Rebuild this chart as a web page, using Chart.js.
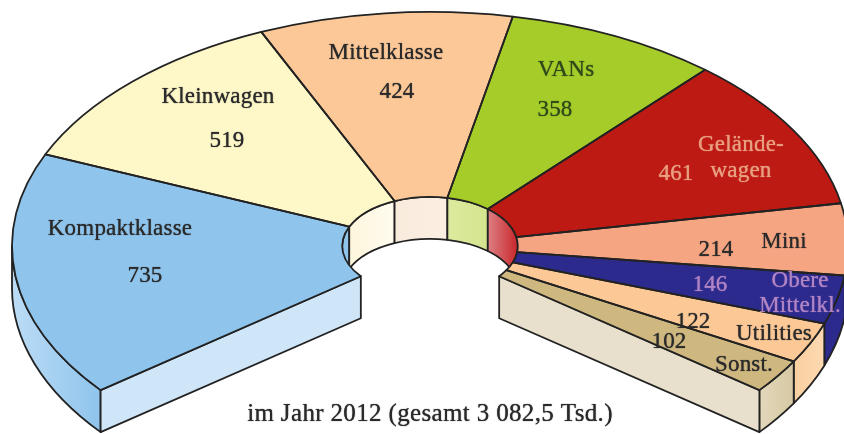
<!DOCTYPE html>
<html>
<head>
<meta charset="utf-8">
<script src="https://cdn.jsdelivr.net/npm/chart.js@4"></script>
<style>html,body{margin:0;padding:0;background:#fff}canvas{display:block}</style>
</head>
<body>
<canvas id="c" width="844" height="434"></canvas>
<script>
const categories = ['Kompaktklasse','Kleinwagen','Mittelklasse','VANs','Geländewagen','Mini','Obere Mittelklasse','Utilities','Sonstige'];
const values = [735,519,424,358,461,214,146,122,102];
const caption = 'im Jahr 2012 (gesamt 3 082,5 Tsd.)';
const topColors = ['#8fc4ec','#fef7c8','#fcc898','#a6cc2a','#be1a14','#f5a582','#2d2a8e','#fcc896','#cfb880'];
const innerWallColors = [['#8fc4ec','#8fc4ec'],['#fdf6dc','#fffbef'],['#f9ebdc','#fbefe2'],['#dcea9e','#d4e48e'],['#dd8084','#c8282c'],null,null,null,null];
const outerWallColors = [['#8fc4ec','#bcdcf5'],null,null,null,null,['#f5a582','#f5a582'],['#2d2a8e','#2d2a8e'],['#fdd9b2','#f9cf9f'],['#d6c8a2','#e3d8bb']];
const faceStart = '#cfe5f8';
const faceEnd = '#e8e0cc';
const DARK = '#2a2a2a', SOFT = '#e8a080', LILAC = '#b184c4', OLIVE = '#2f4a1a';
const labels = [
  ['Kompaktklasse',120,229,DARK],['735',145,276,DARK],
  ['Kleinwagen',218,97,DARK],['519',227,141,DARK],
  ['Mittelklasse',386,53,DARK],['424',397,92,DARK],
  ['VANs',566,70,OLIVE],['358',555,110,OLIVE],
  ['Gelände-',741,145,SOFT],['wagen',741,171,SOFT],['461',676,174,SOFT],
  ['214',716,250,DARK],['Mini',784,242,DARK],
  ['146',710,285,LILAC],['Obere',800,281,LILAC],['Mittelkl.',800,306,LILAC],
  ['122',693,322,DARK],['Utilities',774,334,DARK],
  ['102',669,342,DARK],['Sonst.',744,365,DARK]
];
const CX = 430, CY = 246, FLAT = 0.56, DEPTH = 42;
const INK = '#222';

function pt(r, a, dy) { return [CX + r*Math.cos(a), CY + dy + FLAT*r*Math.sin(a)]; }
function band(ctx, r, a0, a1) {
  const p = pt(r, a1, DEPTH);
  ctx.beginPath();
  ctx.ellipse(CX, CY, r, r*FLAT, 0, a0, a1, false);
  ctx.lineTo(p[0], p[1]);
  ctx.ellipse(CX, CY + DEPTH, r, r*FLAT, 0, a1, a0, true);
  ctx.closePath();
}
function grad(ctx, r, a0, a1, cols) {
  const x0 = pt(r,a0,0)[0], x1 = pt(r,a1,0)[0];
  const g = ctx.createLinearGradient(Math.min(x0,x1)-0.01,0,Math.max(x0,x1)+0.01,0);
  g.addColorStop(0, x0<x1?cols[0]:cols[1]); g.addColorStop(1, x0<x1?cols[1]:cols[0]);
  return g;
}
function face(ctx, ri, ro, a, fill) {
  const A = pt(ri,a,0), B = pt(ro,a,0), C = pt(ro,a,DEPTH), D = pt(ri,a,DEPTH);
  ctx.beginPath(); ctx.moveTo(A[0],A[1]); ctx.lineTo(B[0],B[1]); ctx.lineTo(C[0],C[1]); ctx.lineTo(D[0],D[1]); ctx.closePath();
  ctx.fillStyle = fill; ctx.fill(); ctx.stroke();
}
const solid3d = {
  id: 'solid3d',
  beforeDatasetsDraw(chart) {
    const ctx = chart.ctx, arcs = chart.getDatasetMeta(0).data;
    const ri = arcs[0].innerRadius, ro = arcs[0].outerRadius, last = arcs.length-1;
    ctx.save();
    ctx.strokeStyle = INK; ctx.lineWidth = 1.8; ctx.lineJoin = 'round';
    // inner back wall, only seen through the hole
    ctx.save();
    ctx.beginPath(); ctx.ellipse(CX,CY,ri,ri*FLAT,0,0,Math.PI*2); ctx.clip();
    arcs.forEach((arc,i) => {
      if (!innerWallColors[i]) return;
      const s = i === 0 ? -Math.PI : arc.startAngle;
      const e = i === 4 ? 0.12 : arc.endAngle;
      band(ctx, ri, s, e);
      ctx.fillStyle = grad(ctx, ri, s, e, innerWallColors[i]); ctx.fill(); ctx.stroke();
    });
    ctx.restore();
    // outer wall on the front half
    arcs.forEach((arc,i) => {
      if (!outerWallColors[i]) return;
      const a0 = i === 0 ? arc.startAngle : Math.max(arc.startAngle, 0);
      const a1 = i === 0 ? -Math.PI : arc.endAngle;
      band(ctx, ro, a0, a1);
      ctx.fillStyle = grad(ctx, ro, a0, a1, outerWallColors[i]); ctx.fill(); ctx.stroke();
    });
    // the two cut faces
    face(ctx, ri, ro, arcs[0].startAngle, faceStart);
    face(ctx, ri, ro, arcs[last].endAngle, faceEnd);
    ctx.restore();
    // flatten the doughnut itself
    const a = arcs[0];
    ctx.save();
    ctx.translate(CX, CY); ctx.scale(1, FLAT); ctx.translate(-a.x, -a.y);
  },
  afterDatasetsDraw(chart) {
    const ctx = chart.ctx, arcs = chart.getDatasetMeta(0).data;
    ctx.restore();
    ctx.save();
    ctx.strokeStyle = INK; ctx.lineWidth = 1.8; ctx.lineJoin = 'round';
    arcs.forEach(arc => {
      const A = pt(arc.innerRadius, arc.startAngle, 0), E = pt(arc.innerRadius, arc.endAngle, 0);
      ctx.beginPath();
      ctx.moveTo(A[0],A[1]);
      ctx.ellipse(CX,CY,arc.outerRadius,arc.outerRadius*FLAT,0,arc.startAngle,arc.endAngle,false);
      ctx.lineTo(E[0], E[1]);
      ctx.ellipse(CX,CY,arc.innerRadius,arc.innerRadius*FLAT,0,arc.endAngle,arc.startAngle,true);
      ctx.closePath();
      ctx.stroke();
    });
    ctx.restore();
  },
  afterDraw(chart) {
    const ctx = chart.ctx;
    ctx.save();
    ctx.textAlign = 'center'; ctx.textBaseline = 'middle';
    ctx.font = '23px "Liberation Serif"';
    ctx.letterSpacing = '0.2px';
    ctx.shadowBlur = 1;
    labels.forEach(l => { ctx.fillStyle = l[3]; ctx.shadowColor = l[3]; ctx.fillText(l[0], l[1], l[2]); });
    ctx.font = '25px "Liberation Serif"';
    ctx.letterSpacing = '0.35px';
    ctx.fillStyle = DARK; ctx.shadowColor = DARK;
    ctx.fillText(caption, 430, 414);
    ctx.restore();
  }
};
new Chart(document.getElementById('c').getContext('2d'), {
  type: 'doughnut',
  data: { labels: categories, datasets: [{ data: values, backgroundColor: topColors, borderWidth: 0, clip: false }] },
  options: {
    responsive: false, animation: false,
    radius: 418, cutout: '21%',
    rotation: -128, circumference: 256,
    layout: { padding: 0 },
    plugins: { legend: { display: false }, tooltip: { enabled: false } }
  },
  plugins: [solid3d]
});
</script>
</body>
</html>
